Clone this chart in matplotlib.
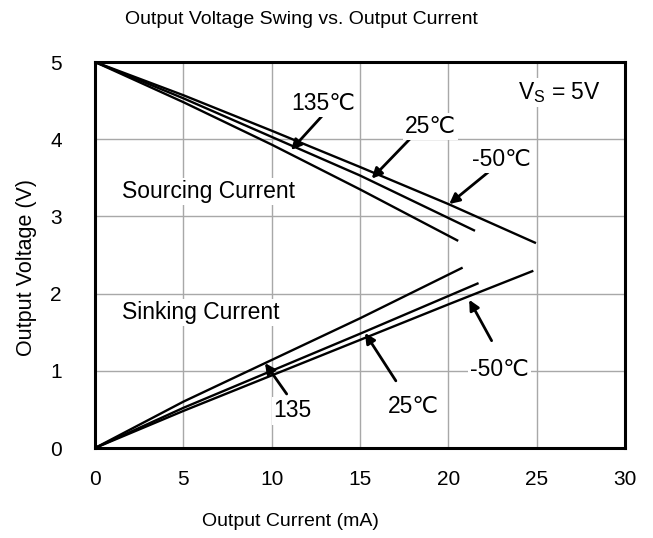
import matplotlib
matplotlib.use("Agg")
import matplotlib.pyplot as plt

plt.rcParams['font.family'] = ['Liberation Sans', 'DejaVu Sans']
plt.rcParams['mathtext.fontset'] = 'custom'
plt.rcParams['mathtext.rm'] = 'Liberation Sans'
plt.rcParams['mathtext.default'] = 'regular'

# sourcing current curves (output voltage high side)
src_135_x = [0, 5, 10, 15, 20.5]
src_135_y = [5, 4.48, 3.93, 3.35, 2.69]
src_25_x = [0, 5, 10, 15, 21.45]
src_25_y = [5, 4.53, 4.03, 3.53, 2.82]
src_m50_x = [0, 5, 10, 15, 20, 24.9]
src_m50_y = [5, 4.57, 4.11, 3.64, 3.16, 2.66]

# sinking current curves (output voltage low side)
snk_135_x = [0, 5, 10, 15, 20.75]
snk_135_y = [0, 0.60, 1.14, 1.68, 2.33]
snk_25_x = [0, 5, 10, 15, 21.65]
snk_25_y = [0, 0.52, 1.00, 1.48, 2.13]
snk_m50_x = [0, 5, 10, 15, 20, 24.75]
snk_m50_y = [0, 0.48, 0.94, 1.40, 1.86, 2.29]

x_ticks = [0, 5, 10, 15, 20, 25, 30]
y_ticks = [0, 1, 2, 3, 4, 5]

fig = plt.figure(figsize=(6.53, 5.38), dpi=100)
ax = fig.add_axes([95 / 653, 1 - 448 / 538, 530 / 653, 386 / 538])

for xs, ys in [(src_135_x, src_135_y), (src_25_x, src_25_y), (src_m50_x, src_m50_y),
               (snk_135_x, snk_135_y), (snk_25_x, snk_25_y), (snk_m50_x, snk_m50_y)]:
    ax.plot(xs, ys, color='black', lw=1.7, zorder=3)

ax.set_xlim(0, 30)
ax.set_ylim(0, 5)
ax.set_xticks(x_ticks)
ax.set_yticks(y_ticks)
ax.tick_params(length=0, labelsize=15)
ax.tick_params(axis='x', pad=16)
ax.tick_params(axis='y', pad=24)
ax.grid(True, color='#a8a8a8', lw=1.0, zorder=0)
for sp in ax.spines.values():
    sp.set_linewidth(2.2)

fs = 16.5
box = dict(facecolor='white', edgecolor='none', pad=1.5)
arrow = dict(arrowstyle='-|>', color='black', lw=2.0, mutation_scale=15, shrinkA=0, shrinkB=0)

def label(text, tip, tail, pos):
    ax.annotate('', xy=tip, xytext=tail, arrowprops=arrow, zorder=4)
    ax.text(pos[0], pos[1], text, fontsize=fs, ha='center', va='center', bbox=box, zorder=5)

label('135\u2103', (11.1, 3.86), (12.85, 4.30), (12.9, 4.46))
label('25\u2103', (15.66, 3.49), (17.98, 4.04), (19.0, 4.17))
label('-50\u2103', (20.05, 3.16), (22.35, 3.59), (23.0, 3.74))
label('135', (9.62, 1.10), (10.85, 0.70), (11.2, 0.48))
label('25\u2103', (15.28, 1.49), (17.03, 0.87), (18.0, 0.535))
label('-50\u2103', (21.18, 1.92), (22.45, 1.39), (22.92, 1.02))

ax.text(26.26, 4.61, 'V$_S$ = 5V', fontsize=fs, ha='center', va='center', bbox=box, zorder=5)
ax.text(1.5, 3.32, 'Sourcing Current', fontsize=fs, ha='left', va='center', bbox=box, zorder=5)
ax.text(1.5, 1.75, 'Sinking Current', fontsize=fs, ha='left', va='center', bbox=box, zorder=5)

fig.text(301 / 653, 1 - 20 / 538, 'Output Voltage Swing vs. Output Current', fontsize=14,
         ha='center', va='center')
fig.text(290 / 653, 1 - 522 / 538, 'Output Current (mA)', fontsize=14, ha='center', va='center')
fig.text(27 / 653, 1 - 267 / 538, 'Output Voltage (V)', fontsize=15.5, ha='center', va='center',
         rotation=90)

fig.savefig('out.png', dpi=100)
